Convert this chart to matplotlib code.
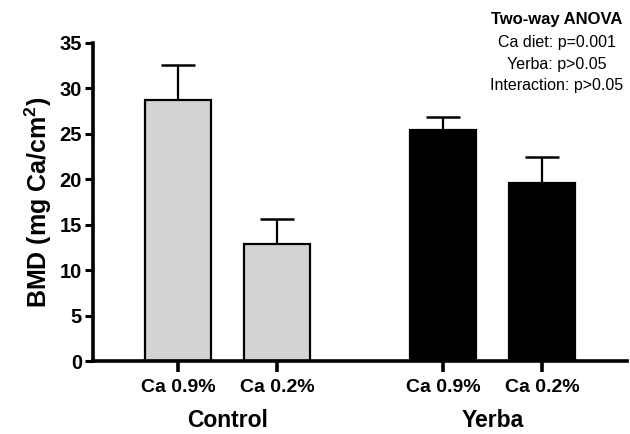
import matplotlib
matplotlib.use("Agg")
import matplotlib.pyplot as plt
from matplotlib.transforms import blended_transform_factory

plt.rcParams["font.family"] = "Liberation Sans"
plt.rcParams["mathtext.fontset"] = "custom"
plt.rcParams["mathtext.rm"] = "Liberation Sans:bold"
plt.rcParams["mathtext.it"] = "Liberation Sans:bold"
plt.rcParams["mathtext.bf"] = "Liberation Sans:bold"

groups = ["Control", "Yerba"]
diets = ["Ca 0.9%", "Ca 0.2%"]
means = [28.7, 12.9, 25.4, 19.6]
errors = [3.9, 2.7, 1.4, 2.8]
positions = [0, 1, 2.677, 3.677]
colors = ["#d3d3d3", "#d3d3d3", "black", "black"]
anova_lines = ["Ca diet: p=0.001", "Yerba: p>0.05", "Interaction: p>0.05"]

fig = plt.figure(figsize=(6.3, 4.34), dpi=100)
ax = fig.add_axes([0.1476, 0.168, 0.8474, 0.733])

ax.bar(positions, means, width=0.67, color=colors, edgecolor="black", linewidth=1.6, zorder=2)
ax.errorbar(positions, means, yerr=[[0] * 4, errors], fmt="none", ecolor="black",
            elinewidth=1.6, capsize=12, capthick=1.8, zorder=1)

ax.set_xlim(-0.86, 4.535)
ax.set_ylim(0, 35)
ax.set_yticks(range(0, 36, 5))
ax.set_xticks(positions)
ax.set_xticklabels(diets * 2, fontsize=14, fontweight="bold")
for lab in ax.get_yticklabels():
    lab.set_fontsize(14.5)
    lab.set_fontweight("bold")

for side in ["top", "right"]:
    ax.spines[side].set_visible(False)
for side in ["left", "bottom"]:
    ax.spines[side].set_linewidth(2.6)
ax.tick_params(axis="y", direction="out", length=6, width=2.2, pad=2)
ax.tick_params(axis="x", direction="out", length=8, width=2.6, pad=5)

ax.set_ylabel("BMD (mg Ca/cm$^2$)", fontsize=18, fontweight="bold", labelpad=4)

trans = blended_transform_factory(ax.transData, ax.transAxes)
for name, left, right in zip(groups, positions[0::2], positions[1::2]):
    ax.annotate(name, xy=((left + right) / 2, 0), xycoords=trans,
                xytext=(0, -43), textcoords="offset points",
                ha="center", va="center", fontsize=16.5, fontweight="bold")

fig.text(0.884, 0.955, "Two-way ANOVA", ha="center", va="center", fontsize=12, fontweight="bold")
for i, line in enumerate(anova_lines):
    fig.text(0.884, 0.902 - i * 0.05, line, ha="center", va="center", fontsize=11.5)

fig.savefig("out.png", dpi=100)
